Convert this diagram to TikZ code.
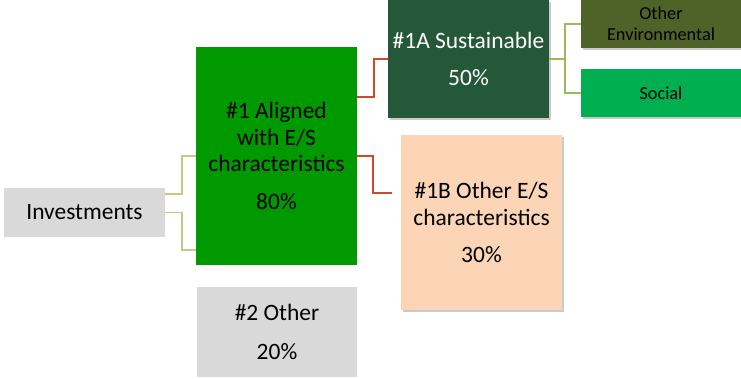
\documentclass[tikz,border=0pt]{standalone}
\usepackage{fontspec}
\setmainfont{Carlito}
\usetikzlibrary{shadows,calc}
\definecolor{boxgray}{HTML}{D9D9D9}
\definecolor{aligngreen}{HTML}{009900}
\definecolor{susgreen}{HTML}{255839}
\definecolor{peach}{HTML}{FBD5B5}
\definecolor{envolive}{HTML}{4F6228}
\definecolor{socgreen}{HTML}{00B050}
\definecolor{tanline}{HTML}{CCC483}
\definecolor{redline}{HTML}{CC4A28}
\definecolor{oliveline}{HTML}{9BBB59}
\tikzset{
  box/.style={draw=none, inner sep=0pt, outer sep=0pt, align=center,
    font=\fontsize{17.6pt}{19.9pt}\selectfont},
  smallbox/.style={box, font=\fontsize{13.7pt}{15.8pt}\selectfont},
  shad/.style={drop shadow={shadow xshift=1.5pt, shadow yshift=-1.5pt, opacity=0.35, fill=black!60}},
  tancon/.style={draw=tanline, line width=1.3pt},
  redcon/.style={draw=redline, line width=1.3pt},
  olcon/.style={draw=oliveline, line width=1.3pt},
}
\begin{document}
\begin{tikzpicture}[x=0.75pt, y=-0.75pt]
\useasboundingbox (0,0) rectangle (741,378);
% boxes
\node[box, fill=boxgray, minimum width=120.75pt, minimum height=36.75pt] (inv) at (84.5,212.5) {Investments};
\node[box, fill=aligngreen, minimum width=120.75pt, minimum height=163.5pt] (al) at (276.5,156) {\#1 Aligned\\with E/S\\characteristics\\[8pt]80\%};
\node[box, fill=boxgray, minimum width=120pt, minimum height=67.5pt] (oth) at (277,332) {\#2 Other\\[9pt]20\%};
\node[box, shad, fill=susgreen, text=white, minimum width=120.75pt, minimum height=88.5pt] (sus) at (468.5,59) {\#1A Sustainable\\[8pt]50\%};
\node[box, shad, fill=peach, minimum width=120.75pt, minimum height=131.25pt] (ob) at (481.5,222.5) {\#1B Other E/S\\characteristics\\[8pt]30\%};
\node[smallbox, shad, fill=envolive, minimum width=120pt, minimum height=36pt] (env) at (661,24) {Other\\Environmental};
\node[smallbox, shad, fill=socgreen, minimum width=120pt, minimum height=36pt] (soc) at (661,93) {Social};
% connectors
\coordinate (invup) at ($(inv.east)+(0,-18.5)$);
\coordinate (allow) at ($(al.west)+(0,94)$);
\draw[tancon] (invup) -- ++(17,0) |- (al.west);
\draw[tancon] (inv.east) -- ++(17,0) |- (allow);
\coordinate (alup) at ($(al.east)+(0,-59)$);
\coordinate (obin) at ($(ob.west)+(-9,-29.5)$);
\draw[redcon] (alup) -- ++(17,0) |- (sus.west);
\draw[redcon] (al.east) -- ++(16,0) |- (obin);
\draw[olcon] (sus.east) -- ++(16,0) |- (env.west);
\draw[olcon] (sus.east) -- ++(16,0) |- (soc.west);
\end{tikzpicture}
\end{document}
